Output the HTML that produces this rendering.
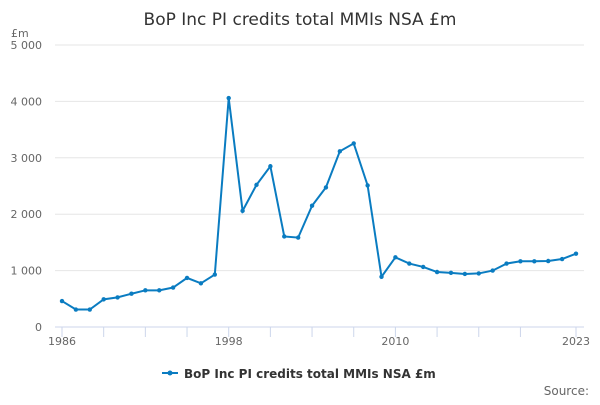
<!DOCTYPE html>
<html><head><meta charset="utf-8"><style>
body{margin:0;background:#fff;font-family:"Liberation Sans",sans-serif;}
svg text{font-family:"DejaVu Sans","Liberation Sans",sans-serif;}
</style></head><body>
<svg width="600" height="400">
<text x="300" y="25" text-anchor="middle" font-size="17" fill="#333">BoP Inc PI credits total MMIs NSA £m</text>
<text x="11" y="37" font-size="11" fill="#666">£m</text>
<g id="grid"></g><g id="xaxis"></g><g id="series"></g>
<g>
<line x1="162" y1="373" x2="178" y2="373" stroke="#0a7cc1" stroke-width="2"/>
<circle cx="170" cy="373" r="2.5" fill="#0a7cc1"/>
<text x="184" y="378" font-size="12" font-weight="bold" fill="#333">BoP Inc PI credits total MMIs NSA £m</text>
</g>
<text x="589" y="395" text-anchor="end" font-size="12" fill="#666">Source:</text>
</svg>
<script>
const years=[];for(let y=1986;y<=2023;y++)years.push(y);
const values=[460,310,310,490,525,590,650,650,700,870,775,930,4060,2060,2520,2850,1605,1585,2150,2475,3115,3255,2510,890,1235,1125,1065,975,960,940,950,1000,1125,1165,1165,1170,1205,1300];
const yTicks=[0,1000,2000,3000,4000,5000];
const yTickLabels=["0","1 000","2 000","3 000","4 000","5 000"];
const xLabels=[1986,1998,2010,2023];
const NS="http://www.w3.org/2000/svg";
const X=v=>62+(v-1986)*(576-62)/(2023-1986);
const Y=v=>327-v*(327-45)/5000;
function mk(t,a,p){const e=document.createElementNS(NS,t);for(const k in a)e.setAttribute(k,a[k]);p.appendChild(e);return e;}
const grid=document.getElementById('grid');
yTicks.forEach((t,i)=>{
 const l=mk('line',{x1:55,x2:584,y1:Y(t),y2:Y(t),stroke:t===0?'#ccd6eb':'#e6e6e6','stroke-width':1},grid);
 
 
 const tx=mk('text',{x:42,y:Y(t)+4,'text-anchor':'end','font-size':11,fill:'#666'},grid);
 tx.textContent=yTickLabels[i];
 
 
});
const xa=document.getElementById('xaxis');
const tickYears=[];for(let y=1986;y<=2020;y+=3)tickYears.push(y);tickYears.push(2023);
tickYears.forEach(y=>{
 const l=mk('line',{x1:X(y),x2:X(y),y1:327,y2:337,stroke:'#ccd6eb'},xa);
 
 
});
xLabels.forEach(y=>{
 const t=mk('text',{x:X(y),y:345,'text-anchor':'middle','font-size':11,fill:'#666'},xa);
 t.textContent=y;
 
 
});
const s=document.getElementById('series');
const p=mk('polyline',{points:years.map((y,i)=>X(y)+','+Y(values[i])).join(' '),fill:'none',stroke:'#0a7cc1','stroke-width':2},s);


years.forEach((y,i)=>{
 const c=mk('circle',{cx:X(y),cy:Y(values[i]),r:2.2,fill:'#0a7cc1'},s);
 
 
});
</script>
</body></html>
